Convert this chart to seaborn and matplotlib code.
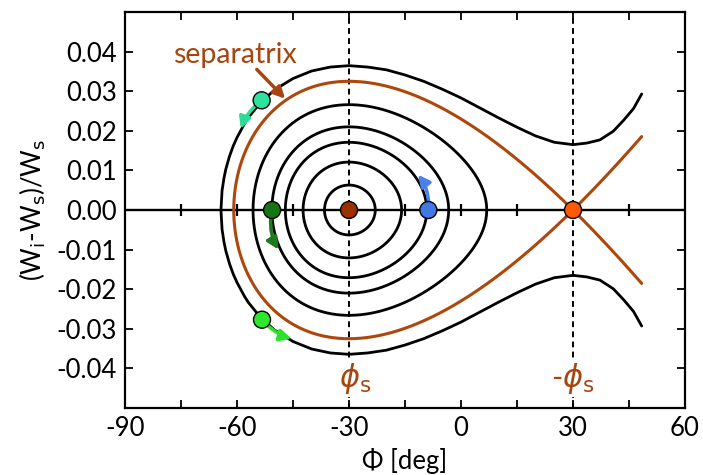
import numpy as np
import matplotlib
matplotlib.use("Agg")
import matplotlib.pyplot as plt
import seaborn as sns

# ---------------- data ----------------
PHI_S = -30.0                       # synchronous phase [deg]
SEP_PEAK = 0.0325                   # separatrix height at phi_s
ARM_END = 48.4                      # right end of separatrix arms [deg]
orbit_amp = [0.0063, 0.0121, 0.0171, 0.0210, 0.0266]   # closed orbits, w at phi_s

# outer (unbound) trajectory, upper branch, read point by point
outer_phi = [-64.3, -64.0, -63.5, -63.0, -62.0, -61.0, -60.0, -58.0, -57.0, -54.0,
             -50.0, -45.0, -40.0, -35.0, -30.0, -25.0, -20.0, -15.0, -10.0, -5.0,
             0.0, 5.0, 10.0, 15.0, 20.0, 25.0, 30.0, 33.7, 37.2, 40.8, 43.5,
             46.2, 48.4]
outer_w = [0.0, 0.0049, 0.0080, 0.0103, 0.0136, 0.0162, 0.0183, 0.0218, 0.0233, 0.0268,
           0.0303, 0.0332, 0.0351, 0.0361, 0.03645, 0.0361, 0.0354, 0.0341, 0.0325, 0.0305,
           0.0283, 0.0258, 0.0233, 0.0209, 0.0187, 0.0171, 0.0165, 0.0169, 0.0177, 0.0199,
           0.0226, 0.0256, 0.0293]

dot_names = ["center", "saddle", "blue", "dgreen", "teal", "lgreen"]
dot_phi = [-30.0, 30.0, -8.75, -50.6, -53.4, -53.3]
dot_w = [0.0, 0.0, 0.0, 0.0, 0.0277, -0.0277]

# arrows: (tail phi, tail w, head phi, head w)
arrow_tail_phi = [-53.4, -53.3, -50.6, -8.75, -54.7]
arrow_tail_w = [0.0277, -0.0277, 0.0, 0.0, 0.0355]
arrow_head_phi = [-59.0, -45.4, -48.9, -11.5, -47.1]
arrow_head_w = [0.0205, -0.0325, -0.0100, 0.0089, 0.0281]

xticks = [-90, -60, -30, 0, 30, 60]
yticks = [-0.04, -0.03, -0.02, -0.01, 0.0, 0.01, 0.02, 0.03, 0.04]
zero_line_ticks = [-75, -60, -45, -15, 0, 15, 45]

# ---------------- style ----------------
BROWN = "#A8440E"
SEP_COL = "#AE470C"
dot_colors = {"center": "#983000", "saddle": "#FF5A00", "blue": "#4178E6",
              "dgreen": "#157515", "teal": "#2BE39C", "lgreen": "#2EE62E"}
arrow_colors = ["#2BDB98", "#2EE02E", "#1F7A1F", "#4A80EA", "#A8440E"]
arrow_rads = [0.15, 0.15, 0.2, 0.2, 0.0]
arrow_shrinkA = [6, 6, 6, 6, 0]

sns.set_theme(style="ticks")
plt.rcParams["font.family"] = ["Lato", "DejaVu Sans"]
plt.rcParams["mathtext.fontset"] = "dejavusans"
plt.rcParams["axes.unicode_minus"] = False

fig = plt.figure(figsize=(7.03, 4.75), dpi=100)
ax = fig.add_axes([125 / 703, 1 - 408 / 475, 560 / 703, 396 / 475])

# ---------------- model for the closed trajectories ----------------
ps = np.radians(PHI_S)


def U(phi_deg):
    p = np.radians(phi_deg)
    return np.sin(p) - p * np.cos(ps) - (np.sin(ps) - ps * np.cos(ps))


K = SEP_PEAK ** 2 / 2 / U(-PHI_S)


def root(E, lo, hi):
    flo = K * U(lo) - E
    for _ in range(80):
        mid = 0.5 * (lo + hi)
        fm = K * U(mid) - E
        if np.sign(fm) == np.sign(flo):
            lo, flo = mid, fm
        else:
            hi = mid
    return 0.5 * (lo + hi)


def wval(E, phi):
    return np.sqrt(np.clip(2 * (E - K * U(phi)), 0, None))


LW = 2.0
# guides
ax.axhline(0, color="black", lw=1.7, zorder=1)
for xv in (PHI_S, -PHI_S):
    ax.axvline(xv, color="black", lw=1.4, ls=(0, (3, 2.2)), zorder=1)
ax.plot(zero_line_ticks, np.zeros(len(zero_line_ticks)), ls="none", marker="|",
        ms=8, mew=1.6, color="black", zorder=1)

# closed orbits
th = np.linspace(0, np.pi, 300)
for a in orbit_amp:
    E = a ** 2 / 2
    pl = root(E, -90.0, PHI_S)
    pr = root(E, PHI_S, -PHI_S)
    ph = 0.5 * (pl + pr) - 0.5 * (pr - pl) * np.cos(th)
    w = wval(E, ph)
    x = np.concatenate([ph, ph[::-1]])
    y = np.concatenate([w, -w[::-1]])
    sns.lineplot(x=x, y=y, sort=False, estimator=None, color="black", lw=LW, ax=ax, zorder=2)

# separatrix
Es = K * U(-PHI_S)
pl = root(Es, -90.0, PHI_S)
t = np.linspace(0, np.pi / 2, 200)
left = pl + (PHI_S - pl) * (1 - np.cos(t))
right = np.union1d(np.linspace(PHI_S, ARM_END, 400), [-PHI_S])
ph = np.concatenate([left, right[1:]])
w = wval(Es, ph)
w[np.isclose(ph, -PHI_S)] = 0.0
x = np.concatenate([ph[::-1], ph])
y = np.concatenate([w[::-1], -w])
sns.lineplot(x=x, y=y, sort=False, estimator=None, color=SEP_COL, lw=LW + 0.2, ax=ax, zorder=3)

# outer trajectory
ox = np.concatenate([np.array(outer_phi)[::-1], outer_phi])
oy = np.concatenate([np.array(outer_w)[::-1], -np.array(outer_w)])
sns.lineplot(x=ox, y=oy, sort=False, estimator=None, color="black", lw=LW, ax=ax, zorder=2)

# arrows
for i in range(len(arrow_tail_phi)):
    ax.annotate("", xy=(arrow_head_phi[i], arrow_head_w[i]),
                xytext=(arrow_tail_phi[i], arrow_tail_w[i]),
                arrowprops=dict(arrowstyle="-|>", color=arrow_colors[i], lw=2.5,
                                mutation_scale=17, shrinkA=arrow_shrinkA[i], shrinkB=0,
                                connectionstyle=f"arc3,rad={arrow_rads[i]}"),
                zorder=4)

# dots
sns.scatterplot(x=dot_phi, y=dot_w, hue=dot_names, palette=dot_colors, s=150,
                edgecolor="black", linewidth=1.0, legend=False, ax=ax, zorder=6)

# text
ax.text(-60.5, 0.0392, "separatrix", color=BROWN, fontsize=20.5, ha="center", va="center")
bb = dict(boxstyle="square,pad=0.05", fc="white", ec="none")
ax.text(PHI_S + 1.6, -0.0425, r"$\phi_{\rm s}$", color=BROWN, fontsize=22, ha="center",
        va="center", bbox=bb, zorder=3)
ax.text(-PHI_S, -0.0425, r"-$\phi_{\rm s}$", color=BROWN, fontsize=22, ha="center",
        va="center", bbox=bb, zorder=3)

# axes
ax.set_xlim(-90, 60)
ax.set_ylim(-0.05, 0.05)
ax.set_xticks(xticks)
ax.set_xticks(np.arange(-75, 60, 15), minor=True)
ax.set_yticks(yticks)
ax.set_yticklabels([f"{v:.2f}" for v in yticks])
ax.set_xticklabels([str(v) for v in xticks])
ax.tick_params(which="both", direction="in", top=True, right=True, length=6, width=1.3,
               labelsize=18.5, color="black", labelcolor="black", pad=6)
for s in ax.spines.values():
    s.set_linewidth(1.6)
    s.set_color("black")
ax.set_xlabel("Φ [deg]", fontsize=18.5, labelpad=5, color="black")
ax.set_ylabel(r"(W$_{\rm i}$-W$_{\rm s}$)/W$_{\rm s}$", fontsize=18.5, labelpad=6, color="black")

fig.savefig("out.png", dpi=100)
